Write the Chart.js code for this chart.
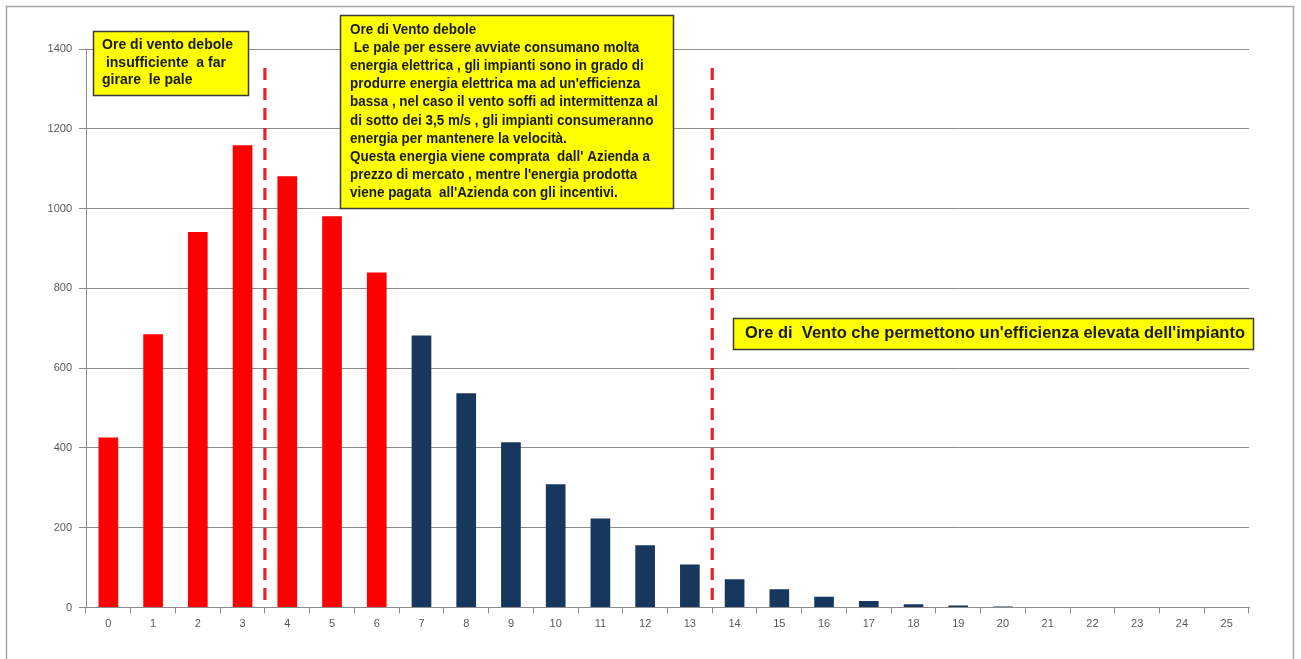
<!DOCTYPE html>
<html>
<head>
<meta charset="utf-8">
<script src="https://cdn.jsdelivr.net/npm/chart.js@4.4.1/dist/chart.umd.min.js"></script>
<style>
  html, body { margin: 0; padding: 0; background: #ffffff; }
  #wrap { width: 1301px; height: 659px; position: relative; }
</style>
</head>
<body>
<div id="wrap"><canvas id="c" width="1301" height="659"></canvas></div>
<script>
// ---- data ----
const categories = ['0','1','2','3','4','5','6','7','8','9','10','11','12','13','14','15','16','17','18','19','20','21','22','23','24','25'];
const hours = [426, 685, 941, 1159, 1081, 981, 840, 682, 537, 414, 309, 223, 156, 108, 71, 46, 27, 16, 8, 5, 2.5, 0, 0, 0, 0, 0];
const yTicks = [0, 200, 400, 600, 800, 1000, 1200, 1400];
const weakWindLastIndex = 6;          // bars 0..6 drawn red
const dividerAfter = [3, 13];          // dashed lines between cat 3|4 and 13|14

const note1 = ['Ore di vento debole', ' insufficiente  a far', 'girare  le pale'];
const note2 = [
  'Ore di Vento debole',
  ' Le pale per essere avviate consumano molta',
  'energia elettrica , gli impianti sono in grado di',
  "produrre energia elettrica ma ad un'efficienza",
  'bassa , nel caso il vento soffi ad intermittenza al',
  'di sotto dei 3,5 m/s , gli impianti consumeranno',
  'energia per mantenere la velocità.',
  "Questa energia viene comprata  dall' Azienda a",
  "prezzo di mercato , mentre l'energia prodotta",
  "viene pagata  all'Azienda con gli incentivi."
];
const note3 = ["Ore di  Vento che permettono un'efficienza elevata dell'impianto"];

const RED = '#ff0000';
const NAVY = '#17375e';
const FONT = '"Liberation Sans", Arial, sans-serif';

function drawNote(ctx, box, lines, textX, firstY, lineH, targetW, size) {
  ctx.save();
  ctx.fillStyle = '#ffff00';
  ctx.fillRect(box.x, box.y, box.w, box.h);
  ctx.strokeStyle = '#3a3a3a';
  ctx.lineWidth = 1.5;
  ctx.strokeRect(box.x + 0.5, box.y + 0.5, box.w, box.h);
  ctx.font = 'bold ' + size + 'px ' + FONT;
  let maxW = 0;
  lines.forEach(l => { maxW = Math.max(maxW, ctx.measureText(l).width); });
  const sx = targetW / maxW;
  ctx.fillStyle = '#1a1a1a';
  ctx.textBaseline = 'middle';
  ctx.textAlign = 'left';
  ctx.translate(textX, 0);
  ctx.scale(sx, 1);
  lines.forEach((l, i) => ctx.fillText(l, 0, firstY + i * lineH));
  ctx.restore();
}

const overlay = {
  id: 'overlay',
  beforeDraw(chart) {
    const ctx = chart.ctx;
    ctx.save();
    ctx.fillStyle = '#ffffff';
    ctx.fillRect(0, 0, chart.width, chart.height);
    ctx.strokeStyle = '#a6a6a6';
    ctx.lineWidth = 1.5;
    ctx.strokeRect(6.5, 6.5, 1287, 700);
    ctx.restore();
  },
  afterDatasetsDraw(chart) {
    const ctx = chart.ctx;
    const xs = chart.scales.x;
    const area = chart.chartArea;
    ctx.save();
    ctx.strokeStyle = '#e4222c';
    ctx.lineWidth = 3.2;
    ctx.setLineDash([12, 8]);
    dividerAfter.forEach(i => {
      const px = (xs.getPixelForValue(i) + xs.getPixelForValue(i + 1)) / 2;
      ctx.beginPath();
      ctx.moveTo(px, 68);
      ctx.lineTo(px, area.bottom);
      ctx.stroke();
    });
    ctx.restore();
    drawNote(ctx, {x: 93, y: 31, w: 155, h: 64}, note1, 102, 45, 17.5, 131, 15);
    drawNote(ctx, {x: 340, y: 15, w: 333, h: 193}, note2, 350, 30, 18.1, 308, 14.5);
    drawNote(ctx, {x: 733, y: 318, w: 520, h: 31}, note3, 745, 333.5, 18, 500, 16);
  }
};

new Chart(document.getElementById('c'), {
  type: 'bar',
  data: {
    labels: categories,
    datasets: [{
      data: hours,
      backgroundColor: hours.map((v, i) => i <= weakWindLastIndex ? RED : NAVY),
      borderWidth: 0,
      barPercentage: 0.44,
      categoryPercentage: 1.0
    }]
  },
  options: {
    responsive: false,
    animation: false,
    devicePixelRatio: 1,
    layout: { padding: { left: 0, top: 49, right: 52, bottom: 0 } },
    plugins: { legend: { display: false }, tooltip: { enabled: false } },
    scales: {
      x: {
        grid: { offset: true, drawOnChartArea: false, drawTicks: true, tickLength: 6, color: '#8c8c8c' },
        border: { color: '#8c8c8c', width: 1 },
        ticks: { color: '#595959', font: { family: 'Liberation Sans', size: 11 }, padding: 4, maxRotation: 0, autoSkip: false },
        afterFit(s) { s.height = 51.5; }
      },
      y: {
        min: 0, max: 1400,
        afterBuildTicks(s) { s.ticks = yTicks.map(v => ({ value: v })); },
        grid: { color: '#8c8c8c', lineWidth: 1, drawTicks: true, tickLength: 7 },
        border: { color: '#8c8c8c', width: 1 },
        ticks: { color: '#595959', font: { family: 'Liberation Sans', size: 11 }, padding: 7, callback: v => String(v) },
        afterFit(s) { s.width = 86; }
      }
    }
  },
  plugins: [overlay]
});
</script>
</body>
</html>
